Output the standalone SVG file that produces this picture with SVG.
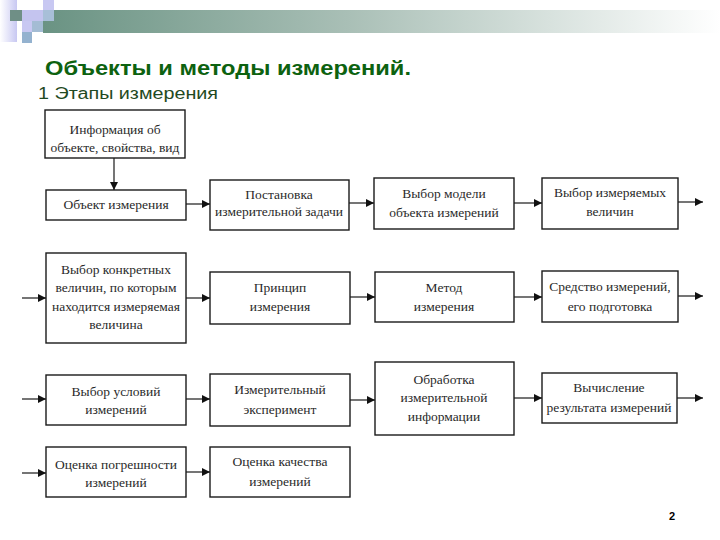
<svg xmlns="http://www.w3.org/2000/svg" width="720" height="540" viewBox="0 0 720 540">
<style>
.box{fill:#fff;stroke:#1a1a1a;stroke-width:1.4}
.t{font-family:"Liberation Serif","Times New Roman",serif;font-size:13.5px;fill:#2a2a2a;text-anchor:middle}
.c{stroke:#1a1a1a;stroke-width:1.2;fill:none;marker-end:url(#ah)}
</style>
<defs>
<marker id="ah" markerUnits="userSpaceOnUse" markerWidth="9" markerHeight="8" refX="8" refY="4" orient="auto">
<path d="M0,0 L8,4 L0,8 z" fill="#111"/>
</marker>
<linearGradient id="bar" x1="0" y1="0" x2="1" y2="0">
<stop offset="0" stop-color="#6a9383"/>
<stop offset="0.45" stop-color="#a9bfb6"/>
<stop offset="1" stop-color="#ffffff"/>
</linearGradient>
<linearGradient id="strip" x1="0" y1="0" x2="1" y2="0">
<stop offset="0" stop-color="#ffffff"/>
<stop offset="1" stop-color="#c8c8f2"/>
</linearGradient>
</defs>
<rect width="720" height="540" fill="#fff"/>
<g id="header">
<rect x="43" y="10" width="677" height="23" fill="url(#bar)"/>
<rect x="0" y="0" width="17" height="42" fill="url(#strip)"/>
<rect x="10" y="10" width="12" height="11" fill="#6f8f86"/>
<rect x="22" y="10" width="21" height="11" fill="#c4c4ef"/>
<rect x="43" y="0" width="11" height="10" fill="#c8c8f2"/>
<rect x="43" y="10" width="11" height="11" fill="#a8bfd8"/>
<rect x="22" y="21" width="10" height="11" fill="#c8c8f2"/>
<rect x="32" y="21" width="11" height="11" fill="#a4bcd4"/>
<rect x="22" y="32" width="10" height="11" fill="#94b2cf"/>
</g>
<text x="45" y="75" font-family="Liberation Sans, Arial, sans-serif" font-weight="bold" font-size="21" fill="#0d6210" textLength="366" lengthAdjust="spacingAndGlyphs">Объекты и методы измерений.</text>
<text x="38" y="99" font-family="Liberation Sans, Arial, sans-serif" font-size="16" fill="#1f4a22" textLength="180" lengthAdjust="spacingAndGlyphs">1 Этапы измерения</text>

<g id="connectors">
<path class="c" d="M114,158 V190"/>
<path class="c" d="M186,204 H210"/>
<path class="c" d="M349,203 H374"/>
<path class="c" d="M514,203 H542"/>
<path class="c" d="M678,202 H703"/>
<path class="c" d="M22,298 H46"/>
<path class="c" d="M186,298 H210"/>
<path class="c" d="M350,297 H375"/>
<path class="c" d="M514,297 H542"/>
<path class="c" d="M678,296 H703"/>
<path class="c" d="M22,399 H46"/>
<path class="c" d="M186,399 H210"/>
<path class="c" d="M350,400 H375"/>
<path class="c" d="M514,398 H542"/>
<path class="c" d="M677,398 H703"/>
<path class="c" d="M22,473 H46"/>
<path class="c" d="M186,472 H210"/>
</g>

<g id="n-info"><rect class="box" x="45" y="110" width="140" height="48"/>
<text class="t" x="115" y="134">Информация об</text><text class="t" x="115" y="152">объекте, свойства, вид</text></g>
<g id="n-object"><rect class="box" x="46" y="190" width="140" height="30"/>
<text class="t" x="116" y="209">Объект измерения</text></g>
<g id="n-task"><rect class="box" x="210" y="180" width="139" height="50"/>
<text class="t" x="279" y="199">Постановка</text><text class="t" x="279" y="216">измерительной задачи</text></g>
<g id="n-model"><rect class="box" x="374" y="178" width="140" height="51"/>
<text class="t" x="444" y="198">Выбор модели</text><text class="t" x="444" y="217">объекта измерений</text></g>
<g id="n-quant"><rect class="box" x="542" y="178" width="136" height="51"/>
<text class="t" x="610" y="197">Выбор измеряемых</text><text class="t" x="610" y="216">величин</text></g>

<g id="n-concrete"><rect class="box" x="46" y="253" width="140" height="90"/>
<text class="t" x="116" y="274">Выбор конкретных</text><text class="t" x="116" y="292">величин, по которым</text><text class="t" x="116" y="311">находится измеряемая</text><text class="t" x="116" y="329">величина</text></g>
<g id="n-principle"><rect class="box" x="210" y="272" width="140" height="52"/>
<text class="t" x="280" y="292">Принцип</text><text class="t" x="280" y="311">измерения</text></g>
<g id="n-method"><rect class="box" x="375" y="272" width="139" height="50"/>
<text class="t" x="444" y="292">Метод</text><text class="t" x="444" y="311">измерения</text></g>
<g id="n-means"><rect class="box" x="542" y="271" width="136" height="51"/>
<text class="t" x="610" y="291">Средство измерений,</text><text class="t" x="610" y="311">его подготовка</text></g>

<g id="n-conditions"><rect class="box" x="46" y="375" width="140" height="50"/>
<text class="t" x="116" y="396">Выбор условий</text><text class="t" x="116" y="414">измерений</text></g>
<g id="n-experiment"><rect class="box" x="210" y="374" width="140" height="52"/>
<text class="t" x="280" y="394">Измерительный</text><text class="t" x="280" y="414">эксперимент</text></g>
<g id="n-processing"><rect class="box" x="375" y="362" width="139" height="73"/>
<text class="t" x="444" y="384">Обработка</text><text class="t" x="444" y="402">измерительной</text><text class="t" x="444" y="421">информации</text></g>
<g id="n-calc"><rect class="box" x="542" y="373" width="135" height="50"/>
<text class="t" x="609" y="392">Вычисление</text><text class="t" x="609" y="412">результата измерений</text></g>

<g id="n-error"><rect class="box" x="46" y="447" width="140" height="50"/>
<text class="t" x="116" y="469">Оценка погрешности</text><text class="t" x="116" y="487">измерений</text></g>
<g id="n-quality"><rect class="box" x="210" y="447" width="140" height="50"/>
<text class="t" x="280" y="466">Оценка качества</text><text class="t" x="280" y="486">измерений</text></g>

<text x="672" y="520" font-family="Liberation Sans, Arial, sans-serif" font-weight="bold" font-size="11" fill="#000" text-anchor="middle">2</text>
</svg>
